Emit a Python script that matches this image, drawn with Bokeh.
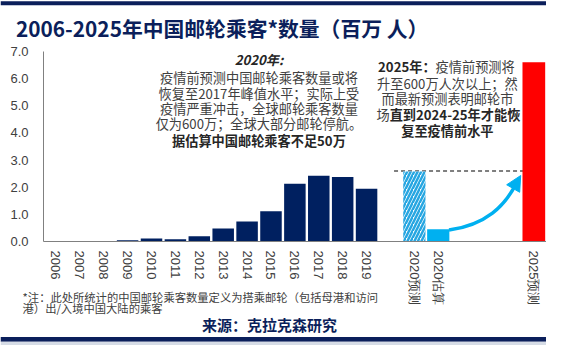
from bokeh.plotting import figure
from bokeh.models import (FixedTicker, Label, BoxAnnotation, Arrow, NormalHead,
                          PrintfTickFormatter)
from bokeh.embed import file_html
from bokeh.resources import INLINE

# ---------------- data ----------------
title_text = "2006-2025年中国邮轮乘客*数量（百万 人）"
years = ["2006", "2007", "2008", "2009", "2010", "2011", "2012",
         "2013", "2014", "2015", "2016", "2017", "2018", "2019"]
hist_values = [0.0, 0.0, 0.0, 0.05, 0.11, 0.08, 0.19,
               0.48, 0.74, 1.11, 2.13, 2.42, 2.38, 1.94]
extra_labels = ["2020预测", "2020估算", "2025预测"]
extra_values = [2.58, 0.45, 6.6]
extra_pos = [15, 16, 20]
pre_covid_level = 2.6
y_ticks = [0, 1, 2, 3, 4, 5, 6, 7]

note_left = ["2020年:",
             "疫情前预测中国邮轮乘客数量或将",
             "恢复至2017年峰值水平；实际上受",
             "疫情严重冲击，全球邮轮乘客数量",
             "仅为600万；全球大部分邮轮停航。",
             "据估算中国邮轮乘客不足50万"]
note_right = ["2025年：", "疫情前预测将",
              "升至600万人次以上；然",
              "而最新预测表明邮轮市",
              "场", "直到2024-25年才能恢",
              "复至疫情前水平"]
footnote = ["*注：此处所统计的中国邮轮乘客数量定义为搭乘邮轮（包括母港和访问",
            "港）出/入境中国大陆的乘客"]
source_text = "来源：克拉克森研究"

# ---------------- layout helpers ----------------
W, H = 546, 345
SX, SY = W / 562, H / 361
# axis area inside the figure (px): left 43, right 546, top 51, bottom 241
AX_L, AX_R, AX_T, AX_B = 43, 546, 51, 241
X_LO, X_HI = -0.52, 20.53
Y_LO, Y_HI = 0, 7
ppx = (AX_R - AX_L) / (X_HI - X_LO)
ppy = (AX_B - AX_T) / (Y_HI - Y_LO)
x_range = (X_LO - AX_L / ppx, X_HI + (W - AX_R) / ppx)
y_range = (Y_LO - (H - AX_B) / ppy, Y_HI + AX_T / ppy)

def sx(px):
    return SX * px

def sy(py):
    return H - SY * py

NAVY = "#0B1F5B"
BAR_NAVY = "#002060"
BLUE = "#00B0F0"
TXT = "#404040"
CJK = "Noto Sans CJK SC"

p = figure(width=W, height=H, x_range=x_range, y_range=y_range,
           output_backend="svg", toolbar_location=None, title=None,
           min_border=0, min_border_left=0, min_border_right=0,
           min_border_top=0, min_border_bottom=0)
p.outline_line_color = None
p.grid.visible = False
p.background_fill_color = "white"
p.border_fill_color = "white"

# axes (fixed inside the drawing area)
p.yaxis.ticker = FixedTicker(ticks=y_ticks)
p.yaxis.formatter = PrintfTickFormatter(format="%.1f")
p.yaxis.fixed_location = X_LO
p.yaxis.bounds = (Y_LO, Y_HI)
p.xaxis.ticker = FixedTicker(ticks=list(range(len(years))) + extra_pos)
overrides = {i: y for i, y in enumerate(years)}
for pos, lab_ in zip(extra_pos, extra_labels):
    overrides[pos] = lab_
p.xaxis.major_label_overrides = overrides
p.xaxis.major_label_orientation = "vertical"
p.xaxis.fixed_location = 0
p.xaxis.bounds = (X_LO, X_HI)
for ax in (p.xaxis, p.yaxis):
    ax.major_tick_out = 0
    ax.major_tick_in = 0
    ax.minor_tick_out = 0
    ax.minor_tick_in = 0
    ax.axis_line_color = "#808080"
    ax.axis_line_width = 1
    ax.major_label_text_font = "Liberation Sans"
    ax.major_label_text_font_size = "13px"
    ax.major_label_text_color = TXT
p.yaxis.major_label_standoff = 15
p.xaxis.major_label_standoff = 9

# bars
p.vbar(x=list(range(len(years))), top=hist_values, width=0.9,
       fill_color=BAR_NAVY, line_color=None)
p.segment(x0=[extra_pos[0] - 0.85], y0=[pre_covid_level],
          x1=[X_HI], y1=[pre_covid_level],
          line_color="#7F7F7F", line_width=2, line_dash="4 3")
p.vbar(x=[extra_pos[0]], top=[extra_values[0]], width=0.93,
       fill_color="white", line_color=None, hatch_pattern="/",
       hatch_color="#27A6E1", hatch_scale=7, hatch_weight=2.5)
p.vbar(x=[extra_pos[1]], top=[extra_values[1]], width=0.93,
       fill_color=BLUE, line_color=None)
p.vbar(x=[extra_pos[2]], top=[extra_values[2]], width=0.95,
       fill_color="#FF0000", line_color=None)

# recovery arrow
x_s = extra_pos[1] + 0.45
y_s = extra_values[1] - 0.03
p.bezier(x0=[x_s], y0=[y_s], x1=[19.3], y1=[2.2],
         cx0=[18.0], cy0=[0.62], cx1=[18.8], cy1=[1.3],
         line_color=BLUE, line_width=3.5)
p.add_layout(Arrow(end=NormalHead(size=15, fill_color=BLUE, line_color=BLUE),
                   x_start=19.2, y_start=2.05, x_end=19.45,
                   y_end=pre_covid_level - 0.17,
                   line_color=BLUE, line_width=3.5))

def lab(text, px, py, size, color=TXT, style="normal", align="center",
        font=CJK):
    p.add_layout(Label(x=sx(px), y=sy(py), x_units="screen", y_units="screen",
                       text=text, text_font=font, text_font_size=f"{size}px",
                       text_font_style=style, text_color=color,
                       text_align=align, text_baseline="middle"))

# decorative bands
for top, bot, col in [(0.8, 5.0, NAVY), (352, 357, NAVY), (357, 361, "#D6DCE6")]:
    p.add_layout(BoxAnnotation(left=sx(0), right=sx(562), top=sy(top),
                               bottom=sy(bot), left_units="screen",
                               right_units="screen", top_units="screen",
                               bottom_units="screen", fill_color=col,
                               fill_alpha=1, line_color=None))

# title
lab(title_text, 16, 29, 20.8, color=NAVY, style="bold", align="left")

# left note
fs = 13.2
lcx = 266
lab(note_left[0], lcx, 62, fs, color="#262626", style="bold italic")
for txt, py in zip(note_left[1:5], [81, 97.3, 113.3, 129]):
    lab(txt, lcx, py, fs)
lab(note_left[5], lcx, 146, fs, color="#262626", style="bold")

# right note
rcx = 460
w1a = 4.21 * fs
w1b = 6 * fs
left1 = rcx - (w1a + w1b) / SX / 2
split1 = left1 + w1a / SX
lab(note_right[0], split1, 69.3, fs, color="#262626", style="bold", align="right")
lab(note_right[1], split1, 69.3, fs, align="left")
lab(note_right[2], rcx, 86.7, fs)
lab(note_right[3], rcx, 102.3, fs)
w4a = 1 * fs
w4b = 9.75 * fs
left4 = rcx - (w4a + w4b) / SX / 2
split4 = left4 + w4a / SX
lab(note_right[4], split4, 119.3, fs, align="right")
lab(note_right[5], split4, 119.3, fs, color="#262626", style="bold", align="left")
lab(note_right[6], rcx, 135.7, fs, color="#262626", style="bold")

# footnote and source
lab(footnote[0], 22.7, 310, 11.3, align="left")
lab(footnote[1], 22.7, 321.7, 11.3, align="left")
lab(source_text, 277, 339.3, 15, color=NAVY, style="bold")

open("out.html", "w").write(file_html(p, INLINE))
